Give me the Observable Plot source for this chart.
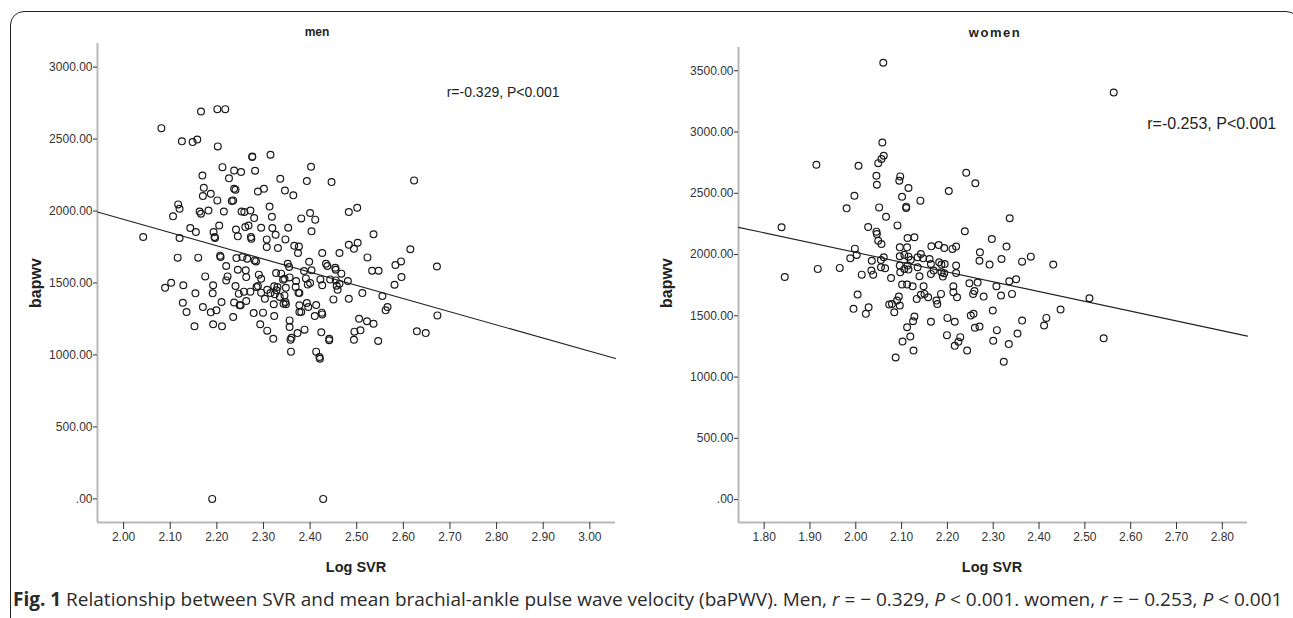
<!DOCTYPE html>
<html><head><meta charset="utf-8">
<script src="https://cdn.jsdelivr.net/npm/d3@7"></script>
<script src="https://cdn.jsdelivr.net/npm/@observablehq/plot@0.6"></script>
<style>
body{margin:0;background:#fff;}
#wrap{position:relative;width:1293px;height:618px;overflow:hidden;font-family:"Liberation Sans",Arial,sans-serif;color:#222;}
#border{position:absolute;left:10px;top:11px;width:1290px;height:640px;border:1.5px solid #222;border-radius:14px;box-sizing:border-box;}
.fig{position:absolute;top:0;}
.title{position:absolute;font-weight:bold;transform:translate(-50%,-50%);white-space:nowrap;}
.ylab{position:absolute;font-weight:bold;font-size:16px;transform:translate(-50%,-50%) rotate(-90deg);white-space:nowrap;}
.xlab{position:absolute;font-weight:bold;font-size:14.5px;transform:translate(-50%,-50%);white-space:nowrap;}
#cap{position:absolute;left:13px;top:587px;font-family:"Open Sans","Noto Sans",sans-serif;font-size:19px;line-height:24px;color:#2a2a2a;white-space:nowrap;}
</style></head>
<body>
<div id="wrap">
  <div id="border"></div>
  <div class="fig" id="menFig" style="left:0px"></div>
  <div class="fig" id="womenFig" style="left:640px"></div>
  <div class="title" style="left:317px;top:32px;font-size:12px;">men</div>
  <div class="title" style="left:995px;top:32px;font-size:13px;letter-spacing:1.5px;">women</div>
  <div class="ylab" style="left:36px;top:283px;">bapwv</div>
  <div class="ylab" style="left:667px;top:283px;">bapwv</div>
  <div class="xlab" style="left:356px;top:567px;">Log SVR</div>
  <div class="xlab" style="left:992px;top:567px;">Log SVR</div>
  <div id="cap"><b>Fig. 1</b> Relationship between SVR and mean brachial-ankle pulse wave velocity (baPWV). Men, <i>r</i> = − 0.329, <i>P</i> &lt; 0.001. women, <i>r</i> = − 0.253, <i>P</i> &lt; 0.001</div>
</div>
<script>
// ---------- data: men ----------
const menX = [
2.081,2.166,2.201,2.218,2.042,2.190,2.428,
2.125,2.148,2.158,2.202,2.276,2.276,2.315,2.212,2.237,2.252,
2.282,2.402,2.169,2.226,2.336,2.393,2.446,2.623,2.172,2.237,
2.240,2.187,2.170,2.288,2.301,2.346,2.364,2.201,2.232,2.235,
2.117,2.120,2.106,2.163,2.166,2.182,2.215,2.253,2.259,2.272,
2.313,2.400,2.411,2.381,2.318,2.280,2.483,2.501,2.143,2.155,
2.193,2.205,2.241,2.245,2.261,2.268,2.295,2.319,2.353,2.403,
2.195,2.196,2.273,2.274,2.307,2.326,2.347,2.120,2.307,2.331,
2.366,2.376,2.374,2.426,2.463,2.483,2.494,2.502,2.536,2.615,
2.116,2.160,2.207,2.208,2.242,2.255,2.265,2.281,2.284,2.220,
2.245,2.262,2.352,2.355,2.398,2.387,2.403,2.434,2.437,2.454,
2.455,2.467,2.523,2.533,2.547,2.583,2.595,2.672,2.175,2.223,
2.220,2.263,2.290,2.295,2.327,2.338,2.342,2.345,2.356,2.370,
2.391,2.422,2.443,2.455,2.463,2.481,2.596,2.089,2.102,2.128,
2.192,2.240,2.288,2.285,2.308,2.323,2.328,2.330,2.348,2.369,
2.375,2.395,2.400,2.426,2.457,2.459,2.512,2.581,2.154,2.191,
2.247,2.258,2.272,2.295,2.303,2.315,2.324,2.335,2.345,2.347,
2.377,2.450,2.483,2.555,2.127,2.135,2.170,2.187,2.199,2.210,
2.237,2.249,2.251,2.263,2.279,2.299,2.323,2.322,2.343,2.348,
2.377,2.377,2.381,2.393,2.396,2.413,2.410,2.425,2.426,2.562,
2.566,2.673,2.152,2.192,2.211,2.235,2.293,2.308,2.321,2.356,
2.356,2.358,2.360,2.373,2.388,2.424,2.441,2.441,2.495,2.494,
2.508,2.522,2.536,2.505,2.546,2.629,2.648,2.359,2.413,2.420,
2.421];
const menY = [
2576,2692,2708,2708,1820,0,0,
2484,2479,2497,2449,2375,2379,2391,2305,2282,2271,
2280,2308,2247,2227,2224,2208,2201,2213,2162,2155,
2148,2120,2104,2136,2155,2143,2109,2074,2069,2074,
2046,2016,1963,1997,1981,2004,1997,1997,1993,2004,
2032,1986,1940,1949,1960,1951,1993,2023,1882,1854,
1854,1900,1872,1824,1889,1900,1884,1882,1884,1859,
1819,1812,1819,1808,1803,1835,1803,1812,1750,1743,
1759,1754,1708,1708,1708,1766,1738,1780,1838,1734,
1676,1676,1690,1680,1673,1680,1669,1657,1650,1618,
1592,1588,1634,1611,1648,1583,1588,1634,1618,1606,
1592,1565,1678,1585,1585,1625,1650,1615,1546,1546,
1518,1541,1558,1530,1569,1565,1523,1530,1539,1514,
1532,1525,1525,1518,1495,1514,1541,1467,1502,1484,
1484,1479,1479,1472,1453,1477,1449,1472,1467,1472,
1433,1490,1500,1484,1481,1453,1430,1488,1428,1428,
1426,1440,1440,1433,1391,1430,1421,1403,1414,1368,
1430,1386,1391,1409,1363,1298,1333,1296,1310,1368,
1365,1345,1345,1375,1291,1294,1271,1352,1356,1352,
1345,1298,1298,1361,1333,1347,1271,1294,1282,1310,
1333,1275,1199,1213,1199,1264,1213,1169,1113,1240,
1194,1106,1120,1152,1176,1157,1113,1102,1162,1106,
1171,1234,1217,1252,1097,1164,1152,1023,1023,986,
974];
const menFitX = [1.944, 3.055];
const menFitY = [1993, 975];
const menXTicks = [2.0,2.1,2.2,2.3,2.4,2.5,2.6,2.7,2.8,2.9,3.0];
const menYTicks = [0,500,1000,1500,2000,2500,3000];
const menXDomain = [1.944, 3.055];
const menYDomain = [-164, 3164];
const menNote = ["r=-0.329, P<0.001"];
const menNoteX = [2.814], menNoteY = [2824];

// ---------- data: women ----------
const womenX = [
2.060,1.914,1.838,1.845,1.917,2.563,
2.058,2.061,2.056,2.049,2.006,2.045,2.046,2.097,2.095,2.115,
2.203,2.241,2.261,1.997,1.980,2.051,2.101,2.110,2.110,2.141,
2.066,2.091,2.027,2.045,2.046,2.049,2.056,2.336,2.238,2.297,
2.329,2.113,2.128,2.096,2.112,2.165,2.181,2.193,2.211,2.219,
1.998,2.002,1.988,1.965,2.035,2.055,2.061,2.096,2.106,2.115,
2.135,2.142,2.147,2.161,2.164,2.182,2.187,2.194,2.219,2.271,
2.270,2.292,2.318,2.363,2.382,2.431,2.013,2.034,2.038,2.055,
2.064,2.077,2.096,2.097,2.106,2.113,2.115,2.120,2.135,2.139,
2.164,2.170,2.187,2.190,2.193,2.219,2.248,2.266,2.307,2.335,
2.350,2.256,2.259,2.221,2.213,2.213,2.279,2.317,2.341,2.510,
2.004,2.101,2.112,2.124,2.148,2.150,2.133,2.142,2.158,2.186,
2.176,2.178,2.094,2.090,2.079,2.073,2.084,2.096,1.995,2.028,
2.022,2.128,2.125,2.164,2.200,2.216,2.251,2.257,2.299,2.416,
2.411,2.447,2.363,2.112,2.119,2.102,2.126,2.087,2.199,2.228,
2.224,2.216,2.243,2.260,2.270,2.308,2.300,2.334,2.353,2.323,
2.541];
const womenY = [
3566,2733,2222,1817,1883,3322,
2915,2806,2779,2746,2725,2643,2570,2638,2603,2543,
2518,2668,2581,2480,2377,2385,2472,2391,2380,2440,
2309,2238,2225,2187,2168,2113,2086,2296,2190,2127,
2065,2135,2141,2059,2059,2067,2078,2054,2046,2065,
2048,1997,1970,1891,1950,1956,1978,1986,1999,1983,
1978,2005,1970,1964,1923,1937,1918,1923,1910,2018,
1950,1918,1964,1942,1983,1918,1836,1869,1836,1896,
1888,1809,1910,1855,1883,1910,1877,1956,1896,1823,
1842,1869,1855,1820,1847,1850,1766,1771,1741,1782,
1798,1679,1703,1652,1741,1692,1657,1665,1679,1643,
1673,1755,1755,1741,1741,1679,1638,1671,1652,1679,
1624,1597,1657,1624,1597,1592,1529,1584,1557,1570,
1516,1494,1456,1451,1483,1451,1502,1516,1543,1483,
1421,1551,1461,1407,1331,1290,1217,1160,1342,1326,
1288,1255,1217,1402,1413,1383,1296,1269,1356,1125,
1317];
const womenFitX = [1.744, 2.855];
const womenFitY = [2222, 1334];
const womenXTicks = [1.8,1.9,2.0,2.1,2.2,2.3,2.4,2.5,2.6,2.7,2.8];
const womenYTicks = [0,500,1000,1500,2000,2500,3000,3500];
const womenXDomain = [1.744, 2.855];
const womenYDomain = [-187, 3690];
const womenNote = ["r=-0.253, P<0.001"];
const womenNoteX = [2.777], womenNoteY = [3067];

// ---------- drawing ----------
const fmtY = d => d === 0 ? ".00" : d.toFixed(2);
const fmtX = d => d.toFixed(2);

function panel({xs, ys, fitX, fitY, xTicks, yTicks, xDomain, yDomain, note, noteX, noteY, noteSize, width, mL, mR, mT, mB}) {
  const pts = xs.map((x, i) => ({x, y: ys[i]}));
  const fit = fitX.map((x, i) => ({x, y: fitY[i]}));
  const notes = note.map((t, i) => ({t, x: noteX[i], y: noteY[i]}));
  return Plot.plot({
    width, height: 600,
    marginLeft: mL, marginRight: mR, marginTop: mT, marginBottom: mB,
    x: {domain: xDomain},
    y: {domain: yDomain},
    style: {fontFamily: '"Liberation Sans", Arial, sans-serif', fontSize: "12px", color: "#333", background: "transparent", overflow: "visible"},
    marks: [
      Plot.ruleX([xDomain[0]], {stroke: "#b8b8b8", strokeWidth: 2}),
      Plot.ruleY([yDomain[0]], {stroke: "#b8b8b8", strokeWidth: 2}),
      Plot.axisY(yTicks, {tickFormat: fmtY, tickSize: 4, tickPadding: 1, label: null, stroke: "#333"}),
      Plot.axisX(xTicks, {tickFormat: fmtX, tickSize: 7, tickPadding: 3, label: null, stroke: "#333"}),
      Plot.line(fit, {x: "x", y: "y", stroke: "#222", strokeWidth: 1.1}),
      Plot.dot(pts, {x: "x", y: "y", r: 3.4, stroke: "#1a1a1a", strokeWidth: 1.2, fill: "none"}),
      Plot.text(notes, {x: "x", y: "y", text: "t", fontSize: noteSize, fill: "#222"})
    ]
  });
}

document.getElementById("menFig").append(panel({
  xs: menX, ys: menY, fitX: menFitX, fitY: menFitY, xTicks: menXTicks, yTicks: menYTicks,
  xDomain: menXDomain, yDomain: menYDomain, note: menNote, noteX: menNoteX, noteY: menNoteY, noteSize: 14,
  width: 640, mL: 97, mR: 25, mT: 43, mB: 78
}));
document.getElementById("womenFig").append(panel({
  xs: womenX, ys: womenY, fitX: womenFitX, fitY: womenFitY, xTicks: womenXTicks, yTicks: womenYTicks,
  xDomain: womenXDomain, yDomain: womenYDomain, note: womenNote, noteX: womenNoteX, noteY: womenNoteY, noteSize: 16,
  width: 653, mL: 98, mR: 46, mT: 47, mB: 78
}));
</script>
</body></html>
